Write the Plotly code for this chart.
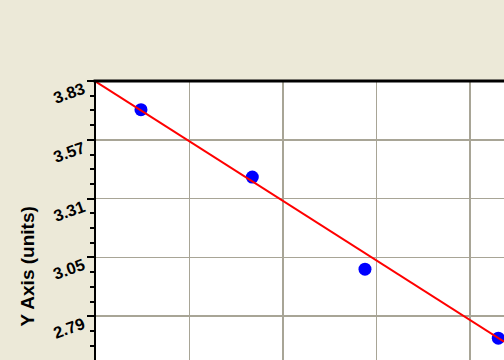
import plotly.graph_objects as go

# data
point_x = [0.481, 1.672, 2.877, 4.303]
point_y = [3.703, 3.405, 2.998, 2.693]
fit_x = [0.0, 4.364]
fit_y = [3.8265, 2.677]
y_ticks = [2.79, 3.05, 3.31, 3.57, 3.83]
y_tick_labels = ["2.79", "3.05", "3.31", "3.57", "3.83"]
y_title = "Y Axis (units)"

FONT = "Liberation Sans, Arial, sans-serif"

fig = go.Figure()
fig.add_trace(go.Scatter(
    x=point_x, y=point_y, mode="markers",
    marker=dict(color="#0000FF", size=13, line=dict(width=0)),
    showlegend=False, hoverinfo="skip"))
fig.add_trace(go.Scatter(
    x=fit_x, y=fit_y, mode="lines",
    line=dict(color="#FF0000", width=2),
    showlegend=False, hoverinfo="skip"))

annotations = [dict(text=y_title, xref="paper", yref="paper",
                    x=-0.169, y=0.335, xanchor="center", yanchor="middle",
                    textangle=-90, showarrow=False,
                    font=dict(family=FONT, size=19, color="#000000", weight="bold"))]
for v, lab in zip(y_ticks, y_tick_labels):
    annotations.append(dict(text=lab, xref="paper", yref="y", x=-0.067, y=v,
                            yshift=-12, xanchor="center", yanchor="middle",
                            textangle=-20, showarrow=False,
                            font=dict(family=FONT, size=16.5, color="#000000",
                                      weight="bold")))

fig.update_layout(
    width=504, height=360,
    margin=dict(l=96, r=0, t=81, b=0, pad=0),
    paper_bgcolor="#ECE9D8", plot_bgcolor="#FFFFFF",
    font=dict(family=FONT, color="#000000"),
    xaxis=dict(range=[0, 4.364], tick0=0, dtick=1, showgrid=True,
               gridcolor="#A8A596", gridwidth=1.5, showticklabels=False,
               ticks="", zeroline=False, showline=False, fixedrange=True),
    yaxis=dict(range=[2.5963, 3.8300], tickvals=y_ticks, showticklabels=False,
               showgrid=True, gridcolor="#A8A596", gridwidth=1.5,
               zeroline=False, showline=True, linecolor="#000000", linewidth=2.5,
               ticks="outside", ticklen=7, tickwidth=2, tickcolor="#000000",
               minor=dict(dtick=0.065, tick0=2.79, ticks="outside", ticklen=4,
                          tickwidth=2, tickcolor="#000000", showgrid=False),
               fixedrange=True, automargin=False),
    shapes=[dict(type="line", xref="paper", yref="paper", x0=-0.006, x1=1.0,
                 y0=1.0, y1=1.0, line=dict(color="#000000", width=3))],
    annotations=annotations,
)

fig.write_html("out.html", config={"displayModeBar": False, "staticPlot": True})
